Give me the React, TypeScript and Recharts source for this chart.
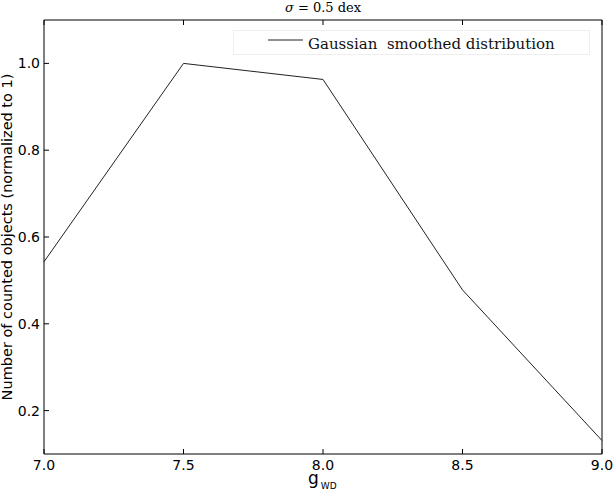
import { LineChart, Line, XAxis, YAxis, Legend } from "recharts";

const gValues = [7.0, 7.5, 8.0, 8.5, 9.0];
const smoothedCounts = [0.543, 1.0, 0.963, 0.478, 0.131];
const xTicks = [7.0, 7.5, 8.0, 8.5, 9.0];
const yTicks = [0.2, 0.4, 0.6, 0.8, 1.0];

const data = gValues.map((g, i) => ({ g, count: smoothedCounts[i] }));

const SANS = "'DejaVu Sans', sans-serif";
const SERIF = "'DejaVu Serif', serif";

function BottomTick({ x, y, payload }: any) {
  return (
    <g>
      <line x1={x} x2={x} y1={y} y2={y - 5} stroke="#000" />
      <text x={x} y={y + 16} textAnchor="middle" fontFamily={SANS} fontSize={14} fill="#000">
        {Number(payload.value).toFixed(1)}
      </text>
    </g>
  );
}

function LeftTick({ x, y, payload }: any) {
  return (
    <g>
      <line x1={x} x2={x + 5} y1={y} y2={y} stroke="#000" />
      <text x={x - 4} y={y + 5} textAnchor="end" fontFamily={SANS} fontSize={14} fill="#000">
        {Number(payload.value).toFixed(1)}
      </text>
    </g>
  );
}

function TopTick({ x, y }: any) {
  return <line x1={x} x2={x} y1={y} y2={y + 5} stroke="#000" />;
}

function RightTick({ x, y }: any) {
  return <line x1={x} x2={x - 5} y1={y} y2={y} stroke="#000" />;
}

function LegendBox() {
  return (
    <div
      style={{
        boxSizing: "border-box",
        width: 357,
        height: 25,
        border: "1px solid #eee",
        background: "#fff",
        display: "flex",
        alignItems: "center",
      }}
    >
      <svg width={70} height={23}>
        <line x1={34} x2={69} y1={9} y2={9} stroke="#222" />
      </svg>
      <span
        style={{
          fontFamily: SERIF,
          fontSize: 15,
          color: "#111",
          whiteSpace: "pre",
          marginLeft: 4,
          marginTop: 2,
        }}
      >
        {"Gaussian  smoothed distribution"}
      </span>
    </div>
  );
}

export default function App() {
  return (
    <div style={{ position: "absolute", left: 0, top: 0, width: 614, height: 493, background: "#fff" }}>
      <div
        style={{
          position: "absolute",
          left: 44,
          top: 0,
          width: 558,
          textAlign: "center",
          fontFamily: SERIF,
          fontSize: 13,
          lineHeight: "15px",
          color: "#000",
        }}
      >
        <i>σ</i> = 0.5 dex
      </div>
      <LineChart width={614} height={493} data={data} margin={{ top: 19, right: 11, bottom: 0, left: 0 }}>
        <XAxis
          dataKey="g"
          type="number"
          domain={[7, 9]}
          ticks={xTicks}
          interval={0}
          height={39}
          tickSize={0}
          tickMargin={0}
          tickLine={false}
          axisLine={{ stroke: "#000" }}
          tick={<BottomTick />}
          label={(props: any) => {
            const vb = props.viewBox;
            return (
              <text x={vb.x + vb.width / 2 - 15} y={484} fill="#000" fontFamily={SANS}>
                <tspan fontSize={17}>g</tspan>
                <tspan fontSize={9} dx={2} dy={5}>WD</tspan>
              </text>
            );
          }}
        />
        <XAxis
          xAxisId="top"
          orientation="top"
          dataKey="g"
          type="number"
          domain={[7, 9]}
          ticks={xTicks}
          interval={0}
          height={1}
          tickSize={0}
          tickMargin={0}
          tickLine={false}
          axisLine={{ stroke: "#000" }}
          tick={<TopTick />}
        />
        <YAxis
          type="number"
          domain={[0.1, 1.1]}
          ticks={yTicks}
          interval={0}
          width={44}
          tickSize={0}
          tickMargin={0}
          tickLine={false}
          axisLine={{ stroke: "#000" }}
          tick={<LeftTick />}
          label={(props: any) => {
            const vb = props.viewBox;
            const cy = vb.y + vb.height / 2;
            return (
              <text
                x={0}
                y={0}
                transform={`translate(12, ${cy}) rotate(-90)`}
                textAnchor="middle"
                fontFamily={SANS}
                fontSize={14.5}
                fill="#000"
              >
                Number of counted objects (normalized to 1)
              </text>
            );
          }}
        />
        <YAxis
          yAxisId="right"
          orientation="right"
          type="number"
          domain={[0.1, 1.1]}
          ticks={yTicks}
          interval={0}
          width={1}
          tickSize={0}
          tickMargin={0}
          tickLine={false}
          axisLine={{ stroke: "#000" }}
          tick={<RightTick />}
        />
        <Legend
          layout="horizontal"
          verticalAlign="middle"
          align="center"
          content={() => <LegendBox />}
          wrapperStyle={{ position: "absolute", left: 233, top: 30, width: 357, height: 25 }}
        />
        <Line
          type="linear"
          dataKey="count"
          stroke="#222"
          strokeWidth={1}
          dot={false}
          isAnimationActive={false}
        />
      </LineChart>
    </div>
  );
}
